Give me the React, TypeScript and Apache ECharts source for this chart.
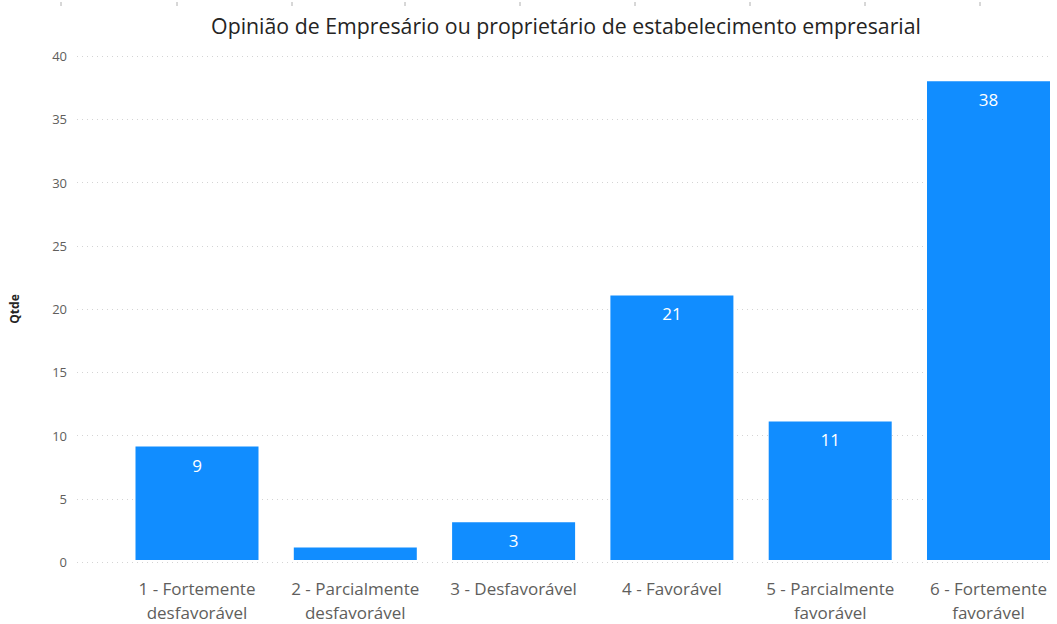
import React, { useEffect, useRef } from "react";
import * as echarts from "echarts";

const categories = [
  "1 - Fortemente\ndesfavorável",
  "2 - Parcialmente\ndesfavorável",
  "3 - Desfavorável",
  "4 - Favorável",
  "5 - Parcialmente\nfavorável",
  "6 - Fortemente\nfavorável",
];
const values = [9, 1, 3, 21, 11, 38];
const labelledValues = [9, null, 3, 21, 11, 38];
const titleText = "Opinião de Empresário ou proprietário de estabelecimento empresarial";
const yAxisName = "Qtde";
const topMarks = [61, 177, 292, 405, 520, 635, 750, 865, 980];

export default function App() {
  const ref = useRef<HTMLDivElement>(null);
  useEffect(() => {
    if (!ref.current) return;
    const chart = echarts.init(ref.current, undefined, { renderer: "svg" });
    chart.setOption({
      animation: false,
      backgroundColor: "#ffffff",
      title: {
        text: titleText,
        left: 561,
        textAlign: "center",
        top: 10,
        textStyle: {
          fontFamily: "Open Sans",
          fontSize: 21.3,
          fontWeight: "normal",
          color: "#252423",
        },
      },
      graphic: topMarks.map((x) => ({
        type: "line",
        shape: { x1: x, y1: 2, x2: x, y2: 6 },
        style: { stroke: "#b0b0b0", lineWidth: 1 },
      })),
      grid: [
        { left: 72, right: 7, top: 56, bottom: 62 },
        { left: 197, right: 68.5, top: 56, bottom: 62 },
      ],
      xAxis: [
        { type: "value", gridIndex: 0, show: false, min: 0, max: 1 },
        {
          type: "category",
          gridIndex: 1,
          data: categories,
          boundaryGap: false,
          axisLine: { show: false },
          axisTick: { show: false },
          splitLine: { show: false },
          axisLabel: {
            margin: 16,
            fontFamily: "Open Sans",
            fontSize: 17,
            lineHeight: 24,
            color: "#605E5C",
            interval: 0,
          },
        },
      ],
      yAxis: [
        {
          type: "value",
          gridIndex: 0,
          min: 0,
          max: 40,
          interval: 5,
          name: yAxisName,
          nameLocation: "middle",
          nameGap: 57,
          nameRotate: 90,
          nameTextStyle: {
            fontFamily: "Open Sans",
            fontSize: 12,
            fontWeight: "bold",
            color: "#252423",
          },
          axisLine: { show: false },
          axisTick: { show: false },
          axisLabel: {
            margin: 10,
            fontFamily: "Open Sans",
            fontSize: 13,
            color: "#605E5C",
          },
          splitLine: {
            show: true,
            lineStyle: { color: "#d4d4d4", type: [1, 4], width: 1 },
          },
        },
        {
          type: "value",
          gridIndex: 1,
          min: 0,
          max: 40,
          interval: 5,
          show: false,
          splitLine: { show: false },
        },
      ],
      series: [
        {
          type: "bar",
          xAxisIndex: 1,
          yAxisIndex: 1,
          data: values.map((v, i) => ({
            value: v,
            label: { show: labelledValues[i] !== null },
          })),
          barWidth: 123,
          itemStyle: { color: "#118DFF" },
          label: {
            show: true,
            position: "insideTop",
            distance: 10,
            color: "#ffffff",
            fontFamily: "Open Sans",
            fontSize: 17,
          },
        },
      ],
    });
    return () => chart.dispose();
  }, []);
  return (
    <div
      ref={ref}
      style={{ position: "fixed", left: 0, top: 0, width: 1057, height: 624 }}
    />
  );
}
